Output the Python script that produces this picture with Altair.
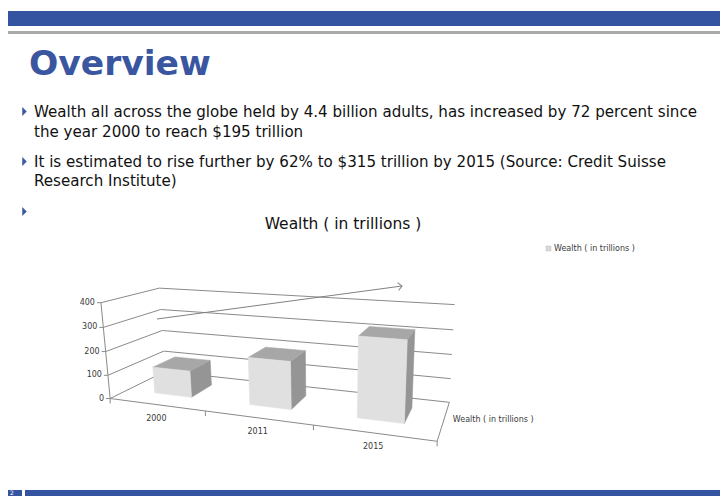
import altair as alt
import numpy as np
import pandas as pd

# ---------------- data ----------------
years = ["2000", "2011", "2015"]
wealth = [113, 195, 315]
value_ticks = [0, 100, 200, 300, 400]
series_label = "Wealth ( in trillions )"
chart_title = "Wealth ( in trillions )"
slide_title = "Overview"
bullet_lines = [
    "Wealth all across the globe held by 4.4 billion adults, has increased by 72 percent since",
    "the year 2000 to reach $195 trillion",
    "It is estimated to rise further by 62% to $315 trillion by 2015 (Source: Credit Suisse",
    "Research Institute)",
]
slide_number = "2"

W, H = 712, 488

# ---------------- perspective camera of the 3-D plot box ----------------
# box space: X = category slot 0..3, V = value/100 (0..4), Z = depth 0 (front) .. 1 (back wall)
CAMERA = np.array([
    [83.4843, -3.24472, 79.9327, 102.16],
    [-11.4974, -26.9513, 30.4181, 390.51],
    [-0.0594498, -0.010166, 0.158407, 1.0],
])


def proj(X, value, Z):
    h = CAMERA @ np.array([X, value / 100.0, Z, 1.0])
    return float(h[0] / h[2]), float(h[1] / h[2])


BAR_X = (0.3, 0.7)     # column width inside each category slot
BAR_Z = (0.3, 0.72)    # column depth inside the box

# ---------------- tables built from the data ----------------
segs = []
for t in value_ticks:
    (x1, y1), (x2, y2) = proj(0, t, 1), proj(3, t, 1)          # back wall gridline
    segs.append(dict(x=x1, y=y1, x2=x2, y2=y2))
    (x1, y1), (x2, y2) = proj(0, t, 0), proj(0, t, 1)          # side wall gridline
    segs.append(dict(x=x1, y=y1, x2=x2, y2=y2))
    (x1, y1) = proj(0, t, 0)                                    # axis tick
    segs.append(dict(x=x1 - 4, y=y1, x2=x1, y2=y1))
for a, b in [((0, 0, 0), (3, 0, 0)), ((3, 0, 0), (3, 0, 1)), ((0, 0, 0), (0, 400, 0))]:
    (x1, y1), (x2, y2) = proj(*a), proj(*b)
    segs.append(dict(x=x1, y=y1, x2=x2, y2=y2))
for k in range(len(years) + 1):                                 # category ticks
    x1, y1 = proj(k, 0, 0)
    segs.append(dict(x=x1, y=y1, x2=x1, y2=y1 + 5))
seg_df = pd.DataFrame(segs)


def poly_rows(pid, face, pts):
    """Convex polygon -> rows (x, y_top, y_bottom) for an area mark."""
    xs = sorted(set(round(p[0], 3) for p in pts))
    n = len(pts)
    rows = []
    for x in xs:
        ys = []
        for k in range(n):
            (x1, y1), (x2, y2) = pts[k], pts[(k + 1) % n]
            if min(x1, x2) - 1e-3 <= x <= max(x1, x2) + 1e-3:
                if abs(x2 - x1) < 1e-6:
                    ys += [y1, y2]
                else:
                    ys.append(y1 + (y2 - y1) * (x - x1) / (x2 - x1))
        rows.append(dict(pid=pid, face=face, x=x, y=min(ys), y2=max(ys)))
    return rows


faces = []
for i, (yr, v) in enumerate(zip(years, wealth)):
    x0, x1 = i + BAR_X[0], i + BAR_X[1]
    z0, z1 = BAR_Z
    front = [proj(x0, 0, z0), proj(x1, 0, z0), proj(x1, v, z0), proj(x0, v, z0)]
    top = [proj(x0, v, z0), proj(x1, v, z0), proj(x1, v, z1), proj(x0, v, z1)]
    side = [proj(x1, 0, z0), proj(x1, 0, z1), proj(x1, v, z1), proj(x1, v, z0)]
    faces += poly_rows(f"{yr}-side", "side", side)
    faces += poly_rows(f"{yr}-top", "top", top)
    faces += poly_rows(f"{yr}-front", "front", front)
face_df = pd.DataFrame(faces)

vlab_df = pd.DataFrame([dict(x=proj(0, t, 0)[0] - 6, y=proj(0, t, 0)[1], text=str(t)) for t in value_ticks])
clab_df = pd.DataFrame([dict(x=proj(i + 0.5, 0, 0)[0], y=proj(i + 0.5, 0, 0)[1] + 14, text=yr)
                        for i, yr in enumerate(years)])
dx, dy = proj(3, 0, 0.5)
dlab_df = pd.DataFrame([dict(x=dx + 9, y=dy, text=series_label)])

XS = alt.Scale(domain=[0, W], nice=False, zero=False)
YS = alt.Scale(domain=[H, 0], nice=False, zero=False)
ex = lambda f="x": alt.X(f"{f}:Q", scale=XS, axis=None)
ey = lambda f="y": alt.Y(f"{f}:Q", scale=YS, axis=None)

BLUE = "#3454a2"
GRID = "#8a8a8a"
LABEL = "#3a3a3a"

base = alt.Chart(pd.DataFrame({"k": [0]}))

# slide decoration
top_band = base.mark_rect(color=BLUE).encode(x=alt.value(0), x2=alt.value(W), y=alt.value(3), y2=alt.value(18))
top_line = base.mark_rect(color="#a9a9a9").encode(x=alt.value(0), x2=alt.value(W), y=alt.value(23), y2=alt.value(26))
bot_band1 = base.mark_rect(color=BLUE).encode(x=alt.value(0), x2=alt.value(14), y=alt.value(482), y2=alt.value(H))
bot_band2 = base.mark_rect(color=BLUE).encode(x=alt.value(17), x2=alt.value(W), y=alt.value(482), y2=alt.value(H))
page_no = base.mark_text(color="white", fontSize=6, font="DejaVu Sans", align="center", baseline="middle").encode(
    x=alt.value(4), y=alt.value(485), text=alt.value(slide_number))

title = base.mark_text(color="#3a56a0", fontSize=34.5, font="DejaVu Sans", fontWeight="bold",
                       align="left", baseline="alphabetic").encode(
    x=alt.value(21), y=alt.value(67), text=alt.value(slide_title))

bl_df = pd.DataFrame(dict(text=bullet_lines, x=[26] * 4, y=[109, 129, 159, 178]))
bullets_txt = alt.Chart(bl_df).mark_text(color="#111111", fontSize=15.1, font="DejaVu Sans", align="left",
                                         baseline="alphabetic").encode(x=ex(), y=ey(), text="text:N")
tri_df = pd.DataFrame(dict(x=[16.5, 16.5, 16.5], y=[103.5, 153.5, 203.5]))
bullets_tri = alt.Chart(tri_df).mark_point(shape="M-0.5,-1L0.5,0L-0.5,1Z", filled=True, size=81, opacity=1,
                                           color="#3b5a9e").encode(x=ex(), y=ey())

ctitle = base.mark_text(color="#111111", fontSize=15.5, font="DejaVu Sans", align="center", baseline="middle").encode(
    x=alt.value(335), y=alt.value(216), text=alt.value(chart_title))

legend_sq = base.mark_rect(color="#d9d9d9", stroke="#bfbfbf", strokeWidth=0.5).encode(
    x=alt.value(538), x2=alt.value(543), y=alt.value(238), y2=alt.value(243))
legend_tx = base.mark_text(color=LABEL, fontSize=8, font="DejaVu Sans", align="left", baseline="middle").encode(
    x=alt.value(546), y=alt.value(240.5), text=alt.value(series_label))

grid = alt.Chart(seg_df).mark_rule(color=GRID, strokeWidth=1).encode(x=ex(), y=ey(), x2="x2:Q", y2="y2:Q")

face_scale = alt.Scale(domain=["front", "top", "side"], range=["#e0e0e0", "#a7a7a7", "#959595"])
bars = alt.Chart(face_df).mark_area(orient="vertical", strokeWidth=0.6, opacity=1).encode(
    x=ex(), y=alt.Y("y:Q", scale=YS, axis=None, stack=None), y2="y2:Q",
    color=alt.Color("face:N", scale=face_scale, legend=None),
    stroke=alt.Stroke("face:N", scale=face_scale, legend=None),
    detail="pid:N")

# trend arrow drawn over the chart
arrow_df = pd.DataFrame([dict(x=149, y=311, x2=394, y2=278)])
arrow_line = alt.Chart(arrow_df).mark_rule(color="#808080", strokeWidth=1).encode(x=ex(), y=ey(), x2="x2:Q", y2="y2:Q")
ang = float(np.degrees(np.arctan2(278 - 311, 394 - 149))) % 360
arrow_head = alt.Chart(arrow_df).mark_point(shape="M-1,-1L0,0L-1,1", filled=False, size=64, opacity=1,
                                            color="#808080", strokeWidth=1, angle=ang).encode(
    x=ex("x2"), y=ey("y2"))

vlabels = alt.Chart(vlab_df).mark_text(color=LABEL, fontSize=8, font="DejaVu Sans", align="right",
                                       baseline="middle").encode(x=ex(), y=ey(), text="text:N")
clabels = alt.Chart(clab_df).mark_text(color=LABEL, fontSize=8, font="DejaVu Sans", align="center",
                                       baseline="middle").encode(x=ex(), y=ey(), text="text:N")
dlabel = alt.Chart(dlab_df).mark_text(color=LABEL, fontSize=8, font="DejaVu Sans", align="left",
                                      baseline="middle").encode(x=ex(), y=ey(), text="text:N")

chart = alt.layer(
    top_band, top_line, bot_band1, bot_band2, page_no, title, bullets_tri, bullets_txt, ctitle,
    legend_sq, legend_tx, grid, bars, arrow_line, arrow_head, vlabels, clabels, dlabel
).properties(width=W, height=H, autosize=alt.AutoSizeParams(type="none"), padding=0,
             background="white").configure_view(stroke=None)

chart.save("out.html", embed_options={"renderer": "svg", "actions": False})
